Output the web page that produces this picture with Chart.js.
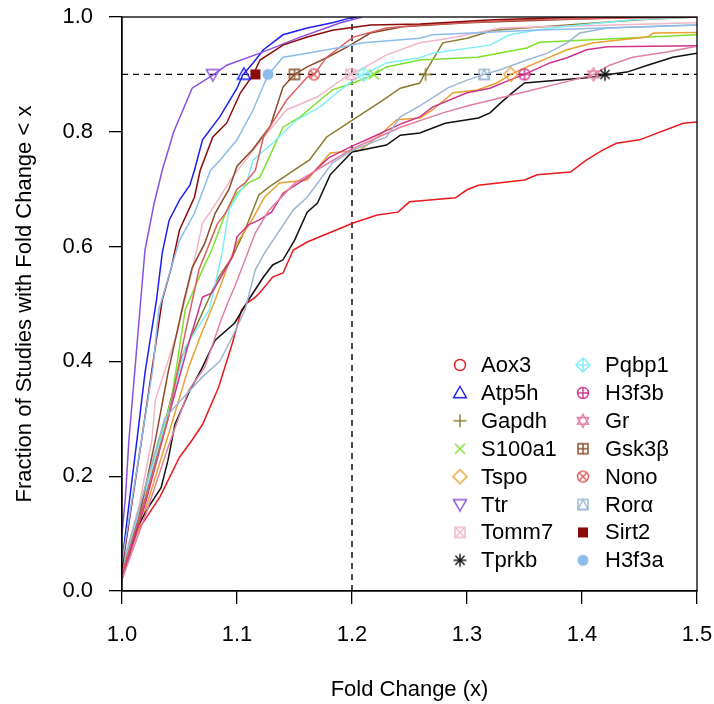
<!DOCTYPE html>
<html>
<head>
<meta charset="utf-8">
<script src="https://cdn.jsdelivr.net/npm/chart.js@4.4.1/dist/chart.umd.min.js"></script>
<style>
  html, body { margin: 0; padding: 0; background: #fff; }
  #wrap { width: 714px; height: 704px; }
</style>
</head>
<body>
<div id="wrap"><canvas id="cdf" width="714" height="704"></canvas></div>
<script>
// cumulative curves, [fold change, fraction]
const aox3 = [[1.0,0.03],[1.007,0.07],[1.014,0.106],[1.033,0.164],[1.05,0.233],[1.061,0.263],[1.07,0.29],[1.084,0.355],[1.096,0.432],[1.104,0.49],[1.109,0.502],[1.116,0.512],[1.12,0.52],[1.131,0.547],[1.14,0.554],[1.149,0.594],[1.161,0.608],[1.201,0.641],[1.222,0.655],[1.24,0.66],[1.25,0.678],[1.29,0.685],[1.30,0.699],[1.31,0.707],[1.35,0.716],[1.361,0.725],[1.39,0.73],[1.404,0.751],[1.418,0.768],[1.43,0.78],[1.45,0.786],[1.488,0.815],[1.5,0.817]];
const atp5h = [[1.0,0.05],[1.006,0.15],[1.013,0.263],[1.02,0.38],[1.03,0.507],[1.035,0.589],[1.041,0.646],[1.05,0.681],[1.059,0.707],[1.063,0.733],[1.07,0.786],[1.085,0.826],[1.10,0.876],[1.105,0.899],[1.114,0.92],[1.123,0.943],[1.14,0.969],[1.161,0.981],[1.183,0.99],[1.198,0.998],[1.204,1.0]];
const gapdh = [[1.0,0.03],[1.015,0.12],[1.035,0.275],[1.052,0.408],[1.067,0.472],[1.084,0.547],[1.096,0.582],[1.107,0.629],[1.119,0.69],[1.128,0.704],[1.14,0.72],[1.163,0.751],[1.178,0.791],[1.201,0.821],[1.227,0.855],[1.242,0.876],[1.259,0.885],[1.265,0.908],[1.279,0.955],[1.30,0.963],[1.323,0.977],[1.387,0.986],[1.45,0.995],[1.5,1.0]];
const s100a1 = [[1.0,0.04],[1.02,0.18],[1.043,0.333],[1.055,0.49],[1.07,0.56],[1.078,0.594],[1.09,0.658],[1.10,0.693],[1.11,0.711],[1.12,0.721],[1.14,0.808],[1.155,0.826],[1.172,0.855],[1.183,0.873],[1.201,0.885],[1.218,0.899],[1.23,0.913],[1.259,0.925],[1.309,0.93],[1.352,0.946],[1.363,0.956],[1.5,0.969]];
const tspo = [[1.0,0.03],[1.02,0.14],[1.04,0.27],[1.058,0.39],[1.068,0.443],[1.081,0.507],[1.094,0.577],[1.10,0.606],[1.113,0.646],[1.124,0.686],[1.137,0.711],[1.161,0.716],[1.181,0.763],[1.207,0.768],[1.224,0.794],[1.239,0.821],[1.259,0.824],[1.27,0.838],[1.288,0.868],[1.309,0.873],[1.326,0.885],[1.338,0.90],[1.352,0.913],[1.372,0.93],[1.387,0.943],[1.41,0.955],[1.457,0.965],[1.462,0.972],[1.5,0.973]];
const ttr = [[1.0,0.10],[1.003,0.164],[1.006,0.263],[1.011,0.38],[1.016,0.50],[1.02,0.594],[1.028,0.676],[1.035,0.733],[1.045,0.80],[1.061,0.876],[1.08,0.90],[1.091,0.916],[1.12,0.937],[1.155,0.965],[1.19,0.99],[1.209,1.0]];
const tomm7 = [[1.0,0.04],[1.015,0.15],[1.026,0.263],[1.029,0.333],[1.048,0.45],[1.065,0.594],[1.07,0.641],[1.078,0.664],[1.096,0.721],[1.123,0.79],[1.143,0.838],[1.17,0.861],[1.187,0.885],[1.198,0.90],[1.21,0.911],[1.23,0.934],[1.259,0.955],[1.285,0.963],[1.329,0.981],[1.5,0.99]];
const tprkb = [[1.0,0.03],[1.013,0.11],[1.023,0.146],[1.034,0.18],[1.04,0.228],[1.046,0.29],[1.058,0.345],[1.07,0.39],[1.081,0.437],[1.098,0.467],[1.11,0.507],[1.123,0.547],[1.131,0.568],[1.14,0.577],[1.15,0.611],[1.161,0.66],[1.17,0.676],[1.181,0.725],[1.20,0.765],[1.23,0.777],[1.242,0.794],[1.259,0.798],[1.281,0.815],[1.31,0.824],[1.32,0.833],[1.329,0.85],[1.34,0.869],[1.35,0.885],[1.404,0.894],[1.42,0.899],[1.439,0.904],[1.457,0.916],[1.479,0.93],[1.5,0.937]];
const pqbp1 = [[1.0,0.04],[1.02,0.17],[1.041,0.315],[1.055,0.425],[1.076,0.49],[1.087,0.589],[1.093,0.664],[1.109,0.716],[1.114,0.751],[1.131,0.78],[1.14,0.798],[1.152,0.821],[1.172,0.843],[1.187,0.868],[1.201,0.89],[1.21,0.90],[1.23,0.92],[1.259,0.929],[1.27,0.937],[1.32,0.951],[1.337,0.969],[1.372,0.981],[1.444,0.995],[1.5,1.0]];
const h3f3b = [[1.0,0.02],[1.02,0.15],[1.04,0.30],[1.057,0.425],[1.07,0.512],[1.078,0.519],[1.096,0.582],[1.10,0.617],[1.11,0.638],[1.119,0.646],[1.13,0.66],[1.14,0.693],[1.161,0.72],[1.18,0.755],[1.20,0.775],[1.218,0.791],[1.244,0.815],[1.259,0.826],[1.27,0.843],[1.30,0.868],[1.32,0.876],[1.337,0.89],[1.35,0.90],[1.372,0.92],[1.387,0.929],[1.404,0.943],[1.422,0.948],[1.5,0.95]];
const gr = [[1.0,0.02],[1.02,0.13],[1.04,0.25],[1.058,0.35],[1.072,0.39],[1.087,0.477],[1.093,0.507],[1.098,0.53],[1.116,0.624],[1.128,0.664],[1.15,0.71],[1.20,0.77],[1.242,0.808],[1.279,0.833],[1.30,0.845],[1.357,0.873],[1.392,0.89],[1.41,0.90],[1.424,0.916],[1.444,0.93],[1.474,0.939],[1.5,0.949]];
const gsk3b = [[1.0,0.03],[1.015,0.13],[1.029,0.263],[1.04,0.38],[1.054,0.507],[1.061,0.563],[1.072,0.606],[1.081,0.658],[1.093,0.70],[1.10,0.74],[1.114,0.77],[1.129,0.81],[1.14,0.878],[1.15,0.90],[1.161,0.913],[1.178,0.929],[1.196,0.948],[1.216,0.972],[1.244,0.983],[1.30,0.99],[1.45,1.0],[1.5,1.0]];
const nono = [[1.0,0.03],[1.02,0.16],[1.04,0.30],[1.055,0.45],[1.067,0.56],[1.083,0.64],[1.09,0.658],[1.10,0.70],[1.107,0.711],[1.116,0.733],[1.123,0.791],[1.143,0.855],[1.161,0.895],[1.167,0.90],[1.178,0.93],[1.201,0.965],[1.23,0.981],[1.259,0.986],[1.35,0.995],[1.5,1.0]];
const rora = [[1.0,0.04],[1.02,0.18],[1.037,0.30],[1.046,0.321],[1.07,0.373],[1.085,0.40],[1.096,0.443],[1.107,0.49],[1.116,0.56],[1.124,0.589],[1.149,0.664],[1.161,0.686],[1.183,0.746],[1.201,0.768],[1.23,0.791],[1.242,0.826],[1.259,0.845],[1.283,0.876],[1.30,0.89],[1.315,0.90],[1.329,0.908],[1.352,0.925],[1.37,0.937],[1.387,0.955],[1.398,0.972],[1.422,0.981],[1.5,0.986]];
const sirt2 = [[1.0,0.04],[1.017,0.263],[1.035,0.507],[1.043,0.564],[1.05,0.629],[1.063,0.686],[1.068,0.733],[1.079,0.791],[1.091,0.815],[1.103,0.868],[1.114,0.899],[1.12,0.925],[1.14,0.951],[1.161,0.965],[1.183,0.977],[1.216,0.986],[1.259,0.988],[1.323,0.995],[1.4,1.0],[1.5,1.0]];
const h3f3a = [[1.0,0.05],[1.012,0.2],[1.027,0.39],[1.032,0.49],[1.05,0.611],[1.063,0.658],[1.077,0.733],[1.085,0.75],[1.10,0.786],[1.114,0.838],[1.127,0.899],[1.14,0.93],[1.161,0.937],[1.187,0.946],[1.21,0.955],[1.259,0.963],[1.27,0.969],[1.357,0.977],[1.5,0.986]];

const genes = ['Aox3','Atp5h','Gapdh','S100a1','Tspo','Ttr','Tomm7','Tprkb','Pqbp1','H3f3b','Gr','Gsk3\u03b2','Nono','Ror\u03b1','Sirt2','H3f3a'];
const curves = [aox3, atp5h, gapdh, s100a1, tspo, ttr, tomm7, tprkb, pqbp1, h3f3b, gr, gsk3b, nono, rora, sirt2, h3f3a];
// fold change where each curve crosses 0.9 (Aox3 never does)
const crossX = [null, 1.106, 1.264, 1.219, 1.338, 1.079, 1.199, 1.420, 1.210, 1.350, 1.410, 1.150, 1.167, 1.315, 1.116, 1.127];
const xTicks = [1.0, 1.1, 1.2, 1.3, 1.4, 1.5];
const yTicks = [0.0, 0.2, 0.4, 0.6, 0.8, 1.0];
const REF_X = 1.2, REF_Y = 0.9;

const colors = ['#e8191e','#1f1ff0','#8c7a2e','#7fe02e','#e8a030','#8b4fe0','#f2b6c6','#111111',
                '#80eef6','#d0338a','#e0809f','#8b4a2a','#d96060','#9db6d2','#8b0a0a','#8cbcea'];
const FONT = '"Liberation Sans", Arial, Helvetica, sans-serif';

function makeMarker(pch, color) {
  var c = document.createElement('canvas');
  c.width = 22; c.height = 22;
  var g = c.getContext('2d');
  g.translate(11, 11);
  g.strokeStyle = color; g.fillStyle = color; g.lineWidth = 1.4;
  function line(a, b, cc, d) { g.beginPath(); g.moveTo(a, b); g.lineTo(cc, d); g.stroke(); }
  function poly(pts) { g.beginPath(); g.moveTo(pts[0][0], pts[0][1]); for (var i = 1; i < pts.length; i++) g.lineTo(pts[i][0], pts[i][1]); g.closePath(); g.stroke(); }
  function circ(r) { g.beginPath(); g.arc(0, 0, r, 0, Math.PI * 2); g.stroke(); }
  var up = [[0,-6.5],[6.5,4.8],[-6.5,4.8]], dn = [[0,6.5],[6.5,-4.8],[-6.5,-4.8]];
  var sq = [[-5,-5],[5,-5],[5,5],[-5,5]], dia = [[0,-7],[7,0],[0,7],[-7,0]];
  switch (pch) {
    case 1: circ(5.5); break;
    case 2: poly(up); break;
    case 3: line(-6.5,0,6.5,0); line(0,-6.5,0,6.5); break;
    case 4: line(-5,-5,5,5); line(-5,5,5,-5); break;
    case 5: poly(dia); break;
    case 6: poly(dn); break;
    case 7: poly(sq); line(-5,-5,5,5); line(-5,5,5,-5); break;
    case 8: line(-6.5,0,6.5,0); line(0,-6.5,0,6.5); line(-4.6,-4.6,4.6,4.6); line(-4.6,4.6,4.6,-4.6); break;
    case 9: poly(dia); line(-7,0,7,0); line(0,-7,0,7); break;
    case 10: circ(5.5); line(-5.5,0,5.5,0); line(0,-5.5,0,5.5); break;
    case 11: poly([[0,-6.5],[5.6,3.2],[-5.6,3.2]]); poly([[0,6.5],[5.6,-3.2],[-5.6,-3.2]]); break;
    case 12: poly(sq); line(-5,0,5,0); line(0,-5,0,5); break;
    case 13: circ(5.5); line(-3.9,-3.9,3.9,3.9); line(-3.9,3.9,3.9,-3.9); break;
    case 14: poly(sq); poly([[0,-5],[5,5],[-5,5]]); break;
    case 15: g.fillRect(-5, -5, 10, 10); break;
    case 16: g.beginPath(); g.arc(0, 0, 5.5, 0, Math.PI * 2); g.fill(); break;
  }
  return c;
}

const markers = genes.map(function(n, i) { return makeMarker(i + 1, colors[i]); });

const datasets = [];
genes.forEach(function(n, i) {
  if (crossX[i] !== null) {
    datasets.push({
      label: n + ' 0.9', data: [{x: crossX[i], y: REF_Y}],
      showLine: false, pointStyle: markers[i], pointRadius: 7, order: 0
    });
  }
});
genes.forEach(function(n, i) {
  datasets.push({
    label: n,
    data: curves[i].map(function(p) { return {x: p[0], y: p[1]}; }),
    showLine: true, borderColor: colors[i], borderWidth: 1.5,
    pointRadius: 0, tension: 0, order: 100 - i
  });
});

const refLines = {
  id: 'refLines',
  beforeDatasetsDraw: function(chart) {
    var c = chart.ctx, a = chart.chartArea, xs = chart.scales.x, ys = chart.scales.y;
    var px = xs.getPixelForValue(REF_X), py = ys.getPixelForValue(REF_Y);
    c.save();
    c.strokeStyle = '#000'; c.lineWidth = 1.4; c.setLineDash([6, 5]);
    c.beginPath(); c.moveTo(a.left, py); c.lineTo(a.right, py); c.stroke();
    c.beginPath(); c.moveTo(px, a.bottom); c.lineTo(px, a.top); c.stroke();
    c.restore();
  },
  afterDraw: function(chart) {
    var c = chart.ctx, a = chart.chartArea;
    c.save();
    c.strokeStyle = '#000'; c.lineWidth = 1.3;
    c.strokeRect(a.left, a.top, a.right - a.left, a.bottom - a.top);
    // legend, two columns inside the plot
    c.font = '22px ' + FONT; c.fillStyle = '#000'; c.textBaseline = 'middle'; c.textAlign = 'left';
    genes.forEach(function(n, i) {
      var col = i < 8 ? 0 : 1, row = i % 8;
      var sx = col ? 583 : 460, tx = col ? 605 : 481, y = 365 + row * 27.9;
      c.drawImage(markers[i], sx - 11, y - 11);
      c.fillText(n, tx, y + 1);
    });
    c.restore();
  }
};

new Chart(document.getElementById('cdf'), {
  type: 'scatter',
  data: { datasets: datasets },
  options: {
    responsive: false,
    animation: false,
    layout: { padding: { top: 17, right: 17, left: 0, bottom: 0 } },
    plugins: { legend: { display: false }, tooltip: { enabled: false } },
    scales: {
      x: {
        type: 'linear', min: 1.0, max: 1.5,
        afterBuildTicks: function(s) { s.ticks = xTicks.map(function(v) { return {value: v}; }); },
        afterFit: function(s) { s.height = 113; s.paddingLeft = 0; s.paddingRight = 0; },
        ticks: { color: '#000', padding: 18, font: { size: 22, family: FONT }, callback: function(v) { return v.toFixed(1); } },
        grid: { drawOnChartArea: false, color: '#000', lineWidth: 1.3, tickLength: 13 },
        border: { color: '#000', width: 1.3 },
        title: { display: true, text: 'Fold Change (x)', color: '#000', font: { size: 22, family: FONT }, padding: { top: 0, bottom: 1 } }
      },
      y: {
        type: 'linear', min: 0, max: 1,
        afterBuildTicks: function(s) { s.ticks = yTicks.map(function(v) { return {value: v}; }); },
        afterFit: function(s) { s.width = 122; s.paddingTop = 0; s.paddingBottom = 0; },
        ticks: { color: '#000', padding: 16, font: { size: 22, family: FONT }, callback: function(v) { return v.toFixed(1); } },
        grid: { drawOnChartArea: false, color: '#000', lineWidth: 1.3, tickLength: 13 },
        border: { color: '#000', width: 1.3 },
        title: { display: true, text: 'Fraction of Studies with Fold Change < x', color: '#000', font: { size: 22, family: FONT }, padding: { top: 12, bottom: 0 } }
      }
    }
  },
  plugins: [refLines]
});
</script>
</body>
</html>
